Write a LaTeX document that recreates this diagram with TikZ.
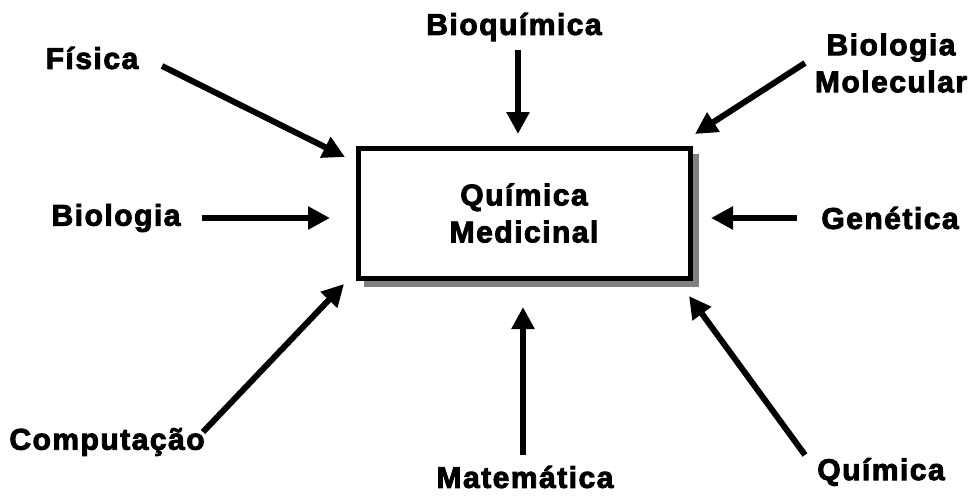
\documentclass[tikz,border=0pt]{standalone}
\usepackage{fontspec}
\setmainfont{Liberation Sans}[BoldFeatures={FakeBold=3,LetterSpace=5}]
\usetikzlibrary{arrows.meta}
\tikzset{
  lbl/.style={font=\fontsize{30}{37}\selectfont\bfseries, inner sep=0pt, align=center},
  arr/.style={line width=6pt, -{Triangle[length=22pt,width=22pt]}},
  mainbox/.style={draw, line width=5pt, fill=white}
}
\begin{document}
\begin{tikzpicture}[x=1pt,y=-1pt]
\useasboundingbox (0,0) rectangle (971,495);
% shadow
\fill[black!50] (364,154) rectangle (699,287);
\draw[mainbox] (358,148) rectangle (690,278);
\node[lbl] (qm) at (524,213) {Química\\Medicinal};

% labels
\node[lbl] (fis) at (92,58) {Física};
\node[lbl] (bio) at (116,218) {Biologia};
\node[lbl] (bq) at (514,27) {Bioquímica};
\node[lbl] (bm) at (891,63) {Biologia\\Molecular};
\node[lbl] (gen) at (890,218) {Genética};
\node[lbl] (comp) at (107,442) {Computação};
\node[lbl] (mat) at (525,477) {Matemática};
\node[lbl] (qui) at (881,472) {Química};

% arrow ends
\coordinate (fisS) at (162,66);
\coordinate (fisE) at (345,157);
\coordinate (bioS) at (202,218);
\coordinate (bioE) at (330,218);
\coordinate (bqS) at (518,50);
\coordinate (bqE) at (518,134);
\coordinate (bmS) at (805,63);
\coordinate (bmE) at (695,134);
\coordinate (genS) at (797,218);
\coordinate (genE) at (711,218);
\coordinate (compS) at (203,432);
\coordinate (compE) at (344,284);
\coordinate (matS) at (523,455);
\coordinate (matE) at (523,307);
\coordinate (quiS) at (805,455);
\coordinate (quiE) at (689,296);

\draw[arr] (fisS) -- (fisE);
\draw[arr] (bioS) -- (bioE);
\draw[arr] (bqS) -- (bqE);
\draw[arr] (bmS) -- (bmE);
\draw[arr] (genS) -- (genE);
\draw[arr] (compS) -- (compE);
\draw[arr] (matS) -- (matE);
\draw[arr] (quiS) -- (quiE);
\end{tikzpicture}
\end{document}
